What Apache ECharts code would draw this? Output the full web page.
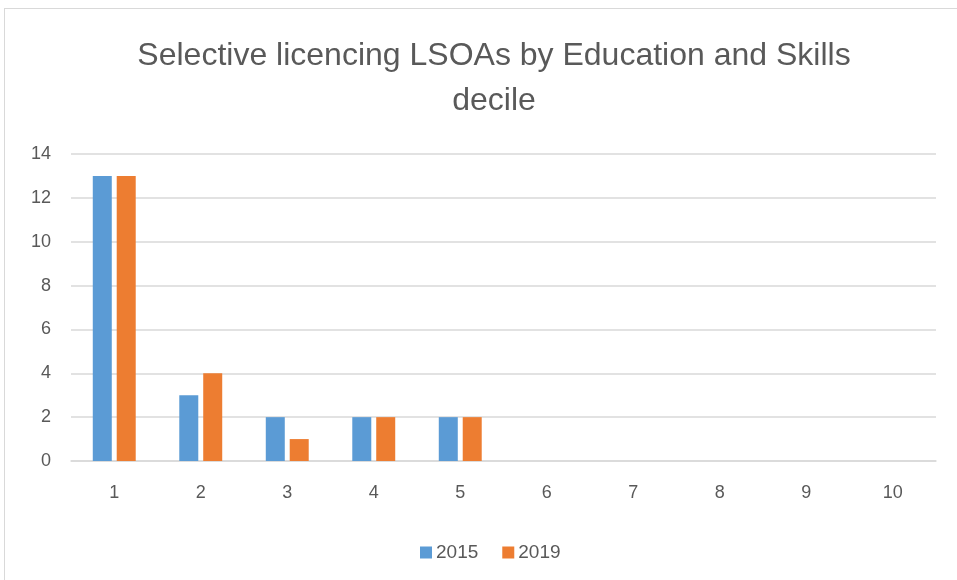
<!DOCTYPE html>
<html>
<head>
<meta charset="utf-8">
<script src="https://cdn.jsdelivr.net/npm/echarts@6/dist/echarts.min.js"></script>
<style>
  html, body { margin: 0; padding: 0; background: #fff; }
  #chart { position: absolute; left: 4px; top: 8px; width: 960px; height: 580px;
           border: 1.5px solid #d9d9d9; box-sizing: border-box; }
</style>
</head>
<body>
<div id="chart"></div>
<script>
// deciles and counts of LSOAs
const deciles = ["1", "2", "3", "4", "5", "6", "7", "8", "9", "10"];
const values2015 = [13, 3, 2, 2, 2, 0, 0, 0, 0, 0];
const values2019 = [13, 4, 1, 2, 2, 0, 0, 0, 0, 0];
const seriesNames = ["2015", "2019"];

const textColor = "#595959";
const gridColor = "#d9d9d9";

let option = {
  animation: false,
  color: ["#5b9bd5", "#ed7d31"],
  title: {
    text: "Selective licencing LSOAs by Education and Skills\ndecile",
    left: 484,
    textAlign: "center",
    top: 20,
    textStyle: {
      fontFamily: "Liberation Sans, sans-serif",
      fontWeight: "normal",
      fontSize: 32,
      lineHeight: 45,
      color: textColor
    }
  },
  legend: {
    data: seriesNames,
    bottom: 20,
    left: 410,
    itemWidth: 12,
    itemHeight: 12,
    itemGap: 24,
    icon: "rect",
    textStyle: { fontSize: 19, color: textColor, fontFamily: "Liberation Sans, sans-serif", padding: [0, 0, 0, -1] }
  },
  grid: {
    left: 66,
    right: 27,
    top: 145,
    bottom: 126
  },
  xAxis: {
    type: "category",
    data: deciles,
    axisLine: { lineStyle: { color: gridColor, width: 1.5 } },
    axisTick: { show: false },
    axisLabel: { color: textColor, fontSize: 18, margin: 23, fontFamily: "Liberation Sans, sans-serif" }
  },
  yAxis: {
    type: "value",
    min: 0,
    max: 14,
    interval: 2,
    axisLine: { show: false },
    axisTick: { show: false },
    axisLabel: { color: textColor, fontSize: 18, margin: 20, fontFamily: "Liberation Sans, sans-serif" },
    splitLine: { lineStyle: { color: gridColor, width: 1.5 } }
  },
  series: [
    {
      name: seriesNames[0],
      type: "bar",
      barWidth: 19,
      barGap: "26%",
      data: values2015
    },
    {
      name: seriesNames[1],
      type: "bar",
      barWidth: 19,
      barGap: "26%",
      data: values2019
    }
  ]
};

echarts.init(document.getElementById("chart")).setOption(option);
</script>
</body>
</html>
